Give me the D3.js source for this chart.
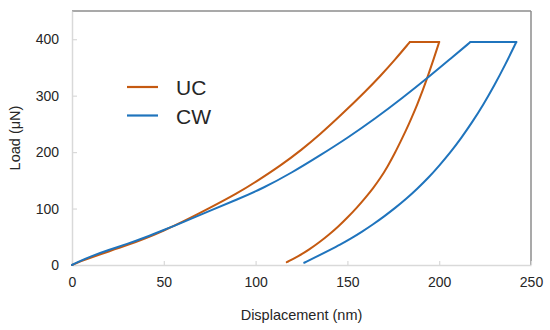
<!DOCTYPE html>
<html>
<head>
<meta charset="utf-8">
<script src="https://cdn.jsdelivr.net/npm/d3@7"></script>
<style>
  body { margin: 0; background: #fff; }
  svg { font-family: "Liberation Sans", Arial, sans-serif; }
</style>
</head>
<body>
<script>
// displacement (nm), load (uN)
const seriesNames = ['UC', 'CW']
const seriesColors = ['#C55A11', '#1F74BD']

const ucLoading = [[0,0],[5,7],[10,13],[20,24],[30,35],[40,47],[50,61],[60,76],[75,101],[90,127],[100,147],[114,177],[125,204],[135,231],[147,267],[160,308],[168,335],[176,364],[184,395]]
const ucHold = [[184,395],[200,395]]
const ucUnloading = [[200,395],[197,365],[194,336],[191,309],[188,284],[185,261],[182,239],[179,219],[176,199],[172,175],[168,154],[164,136],[160,120],[155,101],[150,84],[145,68],[140,54],[135,41],[129,27],[123,15],[117,5]]

const cwLoading = [[0,0],[5,8],[10,15],[20,27],[30,37],[40,49],[50,62],[60,75],[75,96],[90,116],[104,136],[120,164],[135,194],[150,225],[165,259],[180,296],[195,335],[206,365],[217,395]]
const cwHold = [[217,395],[242,395]]
const cwUnloading = [[242,395],[236,355],[230,318],[224,284],[218,253],[212,225],[206,199],[200,176],[194,154],[188,135],[182,117],[176,101],[170,86],[164,72],[158,59],[152,47],[146,36],[140,26],[134,16],[126.5,4]]

const xTicks = [0, 50, 100, 150, 200, 250]
const yTicks = [0, 100, 200, 300, 400]

const W = 550, H = 330
const margin = {left: 72, right: 19, top: 11, bottom: 65}

const svg = d3.select('body').append('svg')
    .attr('width', W)
    .attr('height', H)

const x = d3.scaleLinear().domain([0, 250]).range([margin.left, W - margin.right])
const y = d3.scaleLinear().domain([0, 450]).range([H - margin.bottom, margin.top])

// frame: light axes left/bottom, darker border top/right
svg.append('line')
    .attr('x1', x(0)).attr('x2', x(250)).attr('y1', y(450)).attr('y2', y(450))
    .attr('stroke', '#8c8c8c').attr('stroke-width', 1.5)
svg.append('line')
    .attr('x1', x(250)).attr('x2', x(250)).attr('y1', y(450)).attr('y2', y(0))
    .attr('stroke', '#8c8c8c').attr('stroke-width', 1.5)

const xAxis = svg.append('g')
    .attr('transform', `translate(0,${y(0)})`)
    .call(d3.axisBottom(x).tickValues(xTicks).tickSizeInner(-4).tickSizeOuter(0).tickPadding(12))
const yAxis = svg.append('g')
    .attr('transform', `translate(${x(0)},0)`)
    .call(d3.axisLeft(y).tickValues(yTicks).tickSizeInner(-5).tickSizeOuter(0).tickPadding(13))

for (const ax of [xAxis, yAxis]) {
    ax.select('.domain').attr('stroke', '#d9d9d9').attr('stroke-width', 1.5)
    ax.selectAll('.tick line').attr('stroke', '#d9d9d9').attr('stroke-width', 1.2)
    ax.selectAll('.tick text')
        .attr('fill', '#262626')
        .style('font-size', '14px')
        .style('font-family', '"Liberation Sans", Arial, sans-serif')
}

const line = d3.line()
    .x(d => x(d[0]))
    .y(d => y(d[1]))
    .curve(d3.curveBasis)

const segments = [
    [ucLoading, ucHold, ucUnloading],
    [cwLoading, cwHold, cwUnloading],
]

segments.forEach((segs, i) => {
    svg.append('g')
        .attr('fill', 'none')
        .attr('stroke', seriesColors[i])
        .attr('stroke-width', 2)
        .attr('stroke-linejoin', 'round')
        .attr('stroke-linecap', 'round')
        .selectAll('path')
        .data(segs)
        .join('path')
        .attr('d', line)
})

// legend
const legend = svg.append('g')
seriesNames.forEach((name, i) => {
    const ly = 87 + i * 28.5
    legend.append('line')
        .attr('x1', 127).attr('x2', 158).attr('y1', ly).attr('y2', ly)
        .attr('stroke', seriesColors[i]).attr('stroke-width', 2.2)
    legend.append('text')
        .attr('x', 176).attr('y', ly + 8)
        .attr('fill', '#262626')
        .style('font-size', '21px')
        .text(name)
})

svg.append('text')
    .attr('x', (x(0) + x(250)) / 2)
    .attr('y', 320)
    .attr('text-anchor', 'middle')
    .attr('fill', '#262626')
    .style('font-size', '14.5px')
    .text('Displacement (nm)')

svg.append('text')
    .attr('transform', `translate(20,${(y(0) + y(450)) / 2}) rotate(-90)`)
    .attr('text-anchor', 'middle')
    .attr('fill', '#262626')
    .style('font-size', '14.5px')
    .text('Load (μN)')
</script>
</body>
</html>
